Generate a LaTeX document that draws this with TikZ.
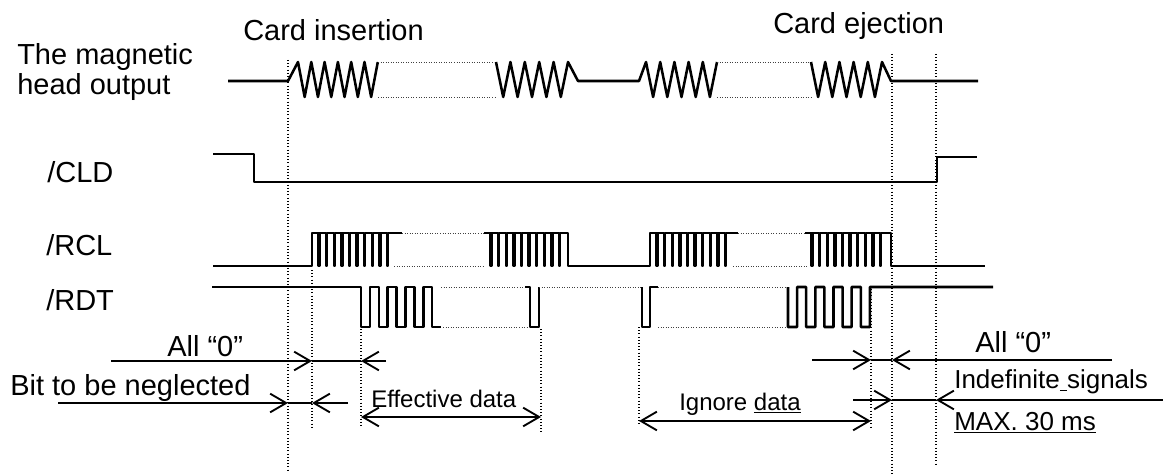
\documentclass[tikz,border=0pt]{standalone}
\usepackage{fontspec}
\setmainfont{Liberation Sans}
\usetikzlibrary{arrows.meta}

\begin{document}
\begin{tikzpicture}[x=0.75pt,y=-0.75pt,
    wave/.style={line width=1.9pt,line join=round},
    gap/.style={line width=0.7pt,dash pattern=on 0.7pt off 1.2pt,black!75},
    guide/.style={line width=0.8pt,dash pattern=on 0.8pt off 1.6pt},
    dim/.style={line width=1.4pt},
    barb/.style={-{Straight Barb[length=12pt,width=14pt]}},
    both/.style={{Straight Barb[length=12pt,width=14pt]}-{Straight Barb[length=12pt,width=14pt]}},
    lbl/.style={inner sep=0pt,anchor=base west,font=\fontsize{21.75}{26}\selectfont},
    small/.style={lbl,font=\fontsize{18}{22}\selectfont},
    mid/.style={lbl,font=\fontsize{19.5}{23}\selectfont}]
  \useasboundingbox (0,0) rectangle (1163,474);

  % signal names
  \node[lbl] (headA) at (17,65) {The magnetic};
  \node[lbl] (headB) at (17,95) {head output};
  \node[lbl] (cld) at (47,183) {/CLD};
  \node[lbl] (rcl) at (46,255) {/RCL};
  \node[lbl] (rdt) at (46,310) {/RDT};
  \node[lbl] (ins) at (243,41) {Card insertion};
  \node[lbl] (ejc) at (773,34) {Card ejection};

  % magnetic head output
  \draw[wave] (228,81) -- (288,81) -- (298,62)
    \foreach \i in {1,...,6} {-- ++(6.65,35) -- ++(6.65,-35)};
  \draw[gap] (378,62) -- (496,62) (378,97) -- (496,97);
  \draw[wave] (496,62) \foreach \i in {1,...,5} {-- ++(7.2,35) -- ++(7.2,-35)}
    -- (578,81) -- (639,81) -- (646,62)
    \foreach \i in {1,...,5} {-- ++(7.1,35) -- ++(7.1,-35)};
  \draw[gap] (717,62) -- (811,62) (717,97) -- (811,97);
  \draw[wave] (811,62) \foreach \i in {1,...,5} {-- ++(7.1,35) -- ++(7.1,-35)}
    -- (891,81) -- (978,81);

  % /CLD
  \draw[wave] (213,154) -- (254,154) -- (254,182) -- (937,182) -- (937,157) -- (977,157);

  % /RCL
  \draw[wave] (213,266) -- (312,266) -- (312,233)
    \foreach \i in {1,...,10} {-- ++(6.6,0) -- ++(0,33) -- ++(1,0) -- ++(0,-33)} -- (402,233);
  \draw[gap] (402,233) -- (484,233) (394,266) -- (484,266);
  \draw[wave] (484,233)
    \foreach \i in {1,...,10} {-- ++(6.6,0) -- ++(0,33) -- ++(1,0) -- ++(0,-33)}
    -- (568,233) -- (568,266) -- (650,266) -- (650,233)
    \foreach \i in {1,...,10} {-- ++(6.6,0) -- ++(0,33) -- ++(1,0) -- ++(0,-33)} -- (738,233);
  \draw[gap] (738,233) -- (805,233) (733,266) -- (807,266);
  \draw[wave] (805,233)
    \foreach \i in {1,...,10} {-- ++(6.6,0) -- ++(0,33) -- ++(1,0) -- ++(0,-33)}
    -- (891,233) -- (891,266) -- (985,266);

  % /RDT
  \draw[wave] (212,287) -- (361,287) -- (361,327)
    \foreach \i in {1,...,4} {-- ++(8.9,0) -- ++(0,-40) -- ++(8.9,0) -- ++(0,40)} -- ++(8.9,0);
  \draw[gap] (441,287) -- (527,287) (443,327) -- (529,327);
  \draw[wave] (525,287) -- (530,287) -- (530,327) -- (539,327) -- (539,287);
  \draw[gap] (539,287) -- (642,287);
  \draw[wave] (642,287) -- (642,327) -- (650,327) -- (650,287) -- (658,287);
  \draw[gap] (658,287) -- (788,287) (658,327) -- (786,327);
  \draw[wave] (788,287) -- (788,327)
    \foreach \i in {1,...,4} {-- ++(9.1,0) -- ++(0,-40) -- ++(9.1,0) -- ++(0,40)} -- ++(9.1,0)
    -- (870,287) -- (993,287);

  % timing guides
  \draw[guide] (288,60) -- (288,470);
  \draw[guide] (312,270) -- (312,428);
  \draw[guide] (361,329) -- (361,428);
  \draw[guide] (541,329) -- (541,432);
  \draw[guide] (639,327) -- (639,425);
  \draw[guide] (871,289) -- (871,428);
  \draw[guide] (892,54) -- (892,474);
  \draw[guide] (936,54) -- (936,466);

  % intervals
  \coordinate (a1) at (111,361);
  \coordinate (a2) at (312,361);
  \coordinate (a3) at (361,361);
  \coordinate (a4) at (386,361);
  \draw[dim,barb] (a1) -- (a2);
  \draw[dim] (a2) -- (a3);
  \draw[dim,barb] (a4) -- (a3);
  \node[lbl] (zeroL) at (167,356) {All “0”};

  \coordinate (b1) at (58,403);
  \coordinate (b2) at (288,403);
  \coordinate (b3) at (312,403);
  \coordinate (b4) at (348,403);
  \draw[dim,barb] (b1) -- (b2);
  \draw[dim] (b2) -- (b3);
  \draw[dim,barb] (b4) -- (b3);
  \node[lbl] (bit) at (10,395) {Bit to be neglected};

  \coordinate (c1) at (361,417);
  \coordinate (c2) at (541,417);
  \draw[dim,both] (c1) -- (c2);
  \node[small] (eff) at (371,407) {Effective data};

  \coordinate (d1) at (639,421);
  \coordinate (d2) at (871,421);
  \draw[dim,both] (d1) -- (d2);
  \node[small] (ign) at (679,410) {Ignore \underline{data}};

  \coordinate (e1) at (812,360);
  \coordinate (e2) at (871,360);
  \coordinate (e3) at (892,360);
  \coordinate (e4) at (1112,360);
  \draw[dim,barb] (e1) -- (e2);
  \draw[dim] (e2) -- (e3);
  \draw[dim,barb] (e4) -- (e3);
  \node[lbl] (zeroR) at (975,352) {All “0”};

  \coordinate (f1) at (853,400);
  \coordinate (f2) at (892,400);
  \coordinate (f3) at (936,400);
  \coordinate (f4) at (1163,400);
  \draw[dim,barb] (f1) -- (f2);
  \draw[dim] (f2) -- (f3);
  \draw[dim,barb] (f4) -- (f3);
  \node[mid] (indef) at (954,388) {Indefinite\underline{\ }signals};
  \node[mid] (max) at (954,430) {\underline{MAX. 30 ms}};
\end{tikzpicture}
\end{document}
